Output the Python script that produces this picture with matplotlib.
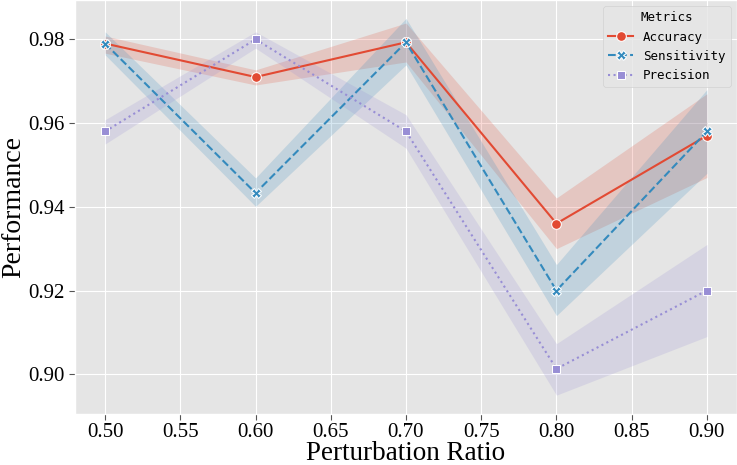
import matplotlib
matplotlib.use("Agg")
import matplotlib.pyplot as plt

plt.style.use("ggplot")

ratios = [0.5, 0.6, 0.7, 0.8, 0.9]

accuracy = [0.979, 0.971, 0.9793, 0.936, 0.957]
accuracy_lo = [0.9767, 0.9691, 0.9746, 0.930, 0.947]
accuracy_hi = [0.9808, 0.9727, 0.9839, 0.9421, 0.967]

sensitivity = [0.979, 0.9433, 0.9793, 0.920, 0.958]
sensitivity_lo = [0.9763, 0.9401, 0.9739, 0.914, 0.948]
sensitivity_hi = [0.9818, 0.9469, 0.985, 0.9262, 0.968]

precision = [0.958, 0.980, 0.958, 0.9013, 0.920]
precision_lo = [0.955, 0.9779, 0.954, 0.895, 0.909]
precision_hi = [0.9608, 0.9818, 0.962, 0.9073, 0.931]

names = ["Accuracy", "Sensitivity", "Precision"]
colors = ["#E24A33", "#348ABD", "#988ED5"]
styles = ["-", (0, (3.7, 1.6)), (0, (1, 1.65))]
markers = ["o", "X", "s"]
msizes = [7, 7, 6]

fig = plt.figure(figsize=(7.37, 4.65), dpi=100)
ax = fig.add_axes([75 / 737, 51 / 465, 662 / 737, 414 / 465])

series = [(accuracy, accuracy_lo, accuracy_hi),
          (sensitivity, sensitivity_lo, sensitivity_hi),
          (precision, precision_lo, precision_hi)]

for (y, lo, hi), name, c, ls, m, ms in zip(series, names, colors, styles, markers, msizes):
    ax.fill_between(ratios, lo, hi, color=c, alpha=0.2, linewidth=0)
    ax.plot(ratios, y, color=c, linestyle=ls, linewidth=1.5, marker=m,
            markersize=ms, markeredgecolor="white", markeredgewidth=0.75, label=name)

ax.set_xlim(0.48, 0.92)
ax.set_ylim(0.8905, 0.9894)
ax.set_xticks([0.50, 0.55, 0.60, 0.65, 0.70, 0.75, 0.80, 0.85, 0.90])
ax.set_yticks([0.90, 0.92, 0.94, 0.96, 0.98])
ax.xaxis.set_major_formatter(matplotlib.ticker.FormatStrFormatter("%.2f"))
ax.yaxis.set_major_formatter(matplotlib.ticker.FormatStrFormatter("%.2f"))

for lab in ax.get_xticklabels() + ax.get_yticklabels():
    lab.set_fontfamily("Liberation Serif")
    lab.set_fontsize(15)
    lab.set_color("black")
ax.tick_params(colors="#555555", labelcolor="black", length=4, width=0.8)
ax.tick_params(axis="x", pad=2.5)

ax.set_xlabel("Perturbation Ratio", fontfamily="Liberation Serif", fontsize=19.5,
              color="black", labelpad=-1)
ax.set_ylabel("Performance", fontfamily="Liberation Serif", fontsize=20,
              color="black", labelpad=1)

leg = ax.legend(title="Metrics", loc="upper right", prop={"family": "DejaVu Sans Mono", "size": 9},
                facecolor="#E5E5E5", edgecolor="#CCCCCC", framealpha=0.8)
leg.get_title().set_fontfamily("DejaVu Sans Mono")
leg.get_title().set_fontsize(9)

fig.savefig("out.png", dpi=100)
